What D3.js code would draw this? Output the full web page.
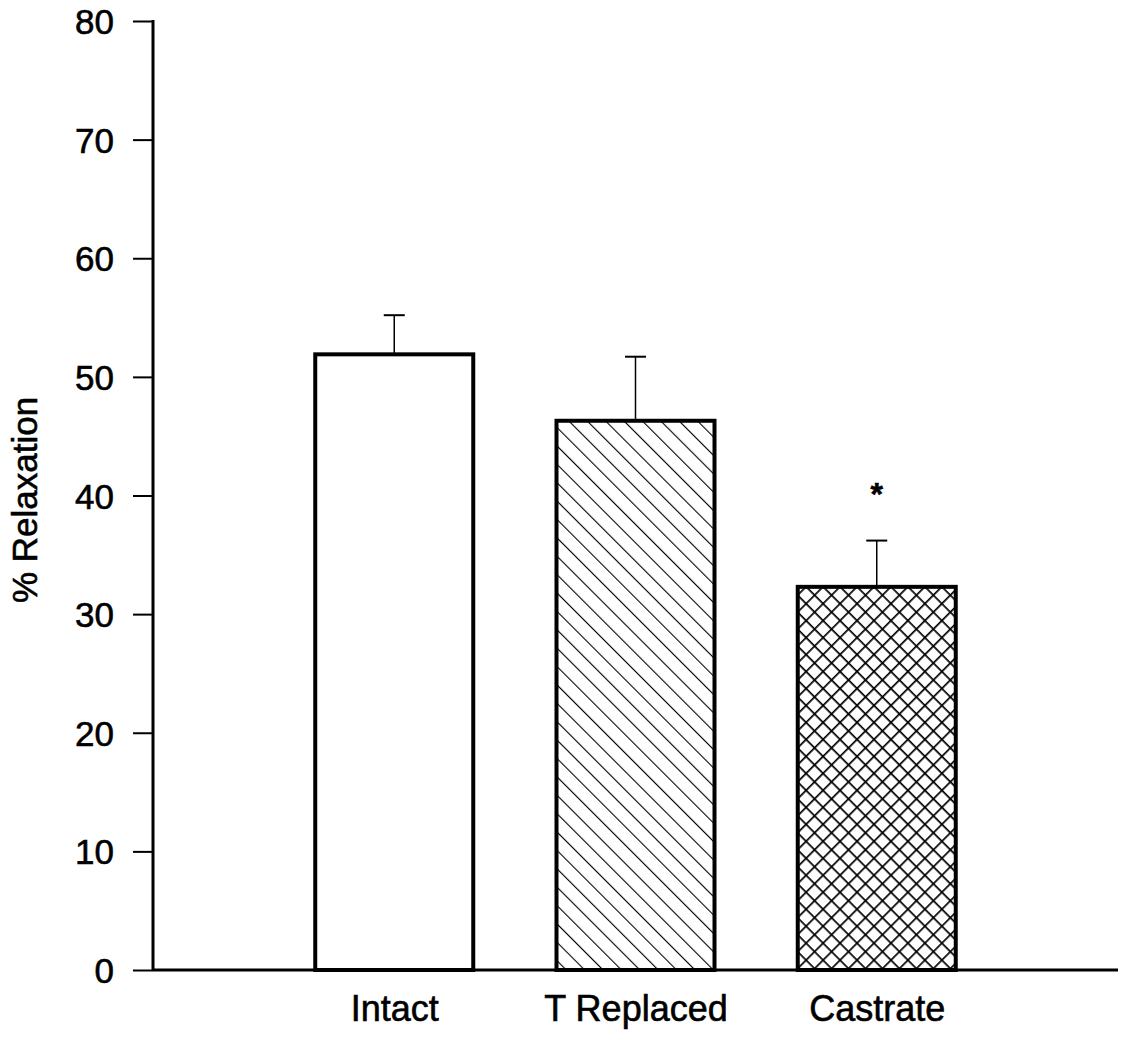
<!DOCTYPE html>
<html>
<head>
<meta charset="utf-8">
<script src="https://cdn.jsdelivr.net/npm/d3@7"></script>
<style>
  html, body { margin: 0; padding: 0; background: #fff; }
  svg { display: block; }
  text { font-family: "Liberation Sans", Arial, Helvetica, sans-serif; fill: #000; stroke: #000; stroke-width: 0.6px; }
</style>
</head>
<body>
<svg id="chart" width="1122" height="1039"></svg>
<script>
const categories = ["Intact", "T Replaced", "Castrate"];
const means = [51.9, 46.3, 32.3];
const errors = [3.3, 5.4, 3.9];
const patterns = ["none", "diag", "cross"];
const significance = ["", "", "*"];
const yTicks = [0, 10, 20, 30, 40, 50, 60, 70, 80];
const yLabel = "% Relaxation";

(function () {
const svg = d3.select("#chart");
const mLeft = 153, mRight = 1118, mTop = 21, mBottom = 970;

const x = d3.scalePoint()
  .domain(["_l", ...categories, "_r"])
  .range([mLeft, mRight]);
const y = d3.scaleLinear().domain([0, 80]).range([mBottom, mTop]);
const barW = 158;

const defs = svg.append("defs");
const diag = defs.append("pattern")
  .attr("id", "diag").attr("patternUnits", "userSpaceOnUse")
  .attr("width", 13).attr("height", 13)
  .attr("patternTransform", "rotate(-45)");
diag.append("rect").attr("width", 13).attr("height", 13).attr("fill", "#fff");
diag.append("line").attr("x1", 0).attr("y1", 0).attr("x2", 0).attr("y2", 13)
  .attr("stroke", "#000").attr("stroke-width", 2.2);

const cs = 12;
const cross = defs.append("pattern")
  .attr("id", "cross").attr("patternUnits", "userSpaceOnUse")
  .attr("width", cs).attr("height", cs)
  .attr("patternTransform", "rotate(45)");
cross.append("rect").attr("width", cs).attr("height", cs).attr("fill", "#fff");
cross.append("line").attr("x1", 0).attr("y1", 0).attr("x2", 0).attr("y2", cs)
  .attr("stroke", "#000").attr("stroke-width", 3.4);
cross.append("line").attr("x1", 0).attr("y1", 0).attr("x2", cs).attr("y2", 0)
  .attr("stroke", "#000").attr("stroke-width", 3.4);

const data = categories.map((c, i) => ({ c, m: means[i], e: errors[i], p: patterns[i], s: significance[i] }));

const eb = svg.append("g");
data.forEach(d => {
  const cx = x(d.c);
  eb.append("line").attr("x1", cx).attr("x2", cx)
    .attr("y1", y(d.m)).attr("y2", y(d.m + d.e))
    .attr("stroke", "#000").attr("stroke-width", 1.5);
  eb.append("line").attr("x1", cx - 10.5).attr("x2", cx + 10.5)
    .attr("y1", y(d.m + d.e)).attr("y2", y(d.m + d.e))
    .attr("stroke", "#000").attr("stroke-width", 2);
});

svg.append("g").selectAll("rect").data(data).join("rect")
  .attr("x", d => x(d.c) - barW / 2)
  .attr("y", d => y(d.m))
  .attr("width", barW)
  .attr("height", d => y(0) - y(d.m))
  .attr("fill", d => d.p === "none" ? "#fff" : `url(#${d.p})`)
  .attr("stroke", "#000").attr("stroke-width", 4);

svg.append("g").selectAll("text").data(data.filter(d => d.s)).join("text")
  .attr("x", d => x(d.c))
  .attr("y", d => y(d.m + d.e) - 36)
  .attr("text-anchor", "middle")
  .attr("font-size", 32)
  .attr("font-weight", "bold")
  .text(d => d.s);

const yAxis = d3.axisLeft(y).tickValues(yTicks).tickSize(20).tickPadding(19);
const gy = svg.append("g").attr("transform", `translate(${mLeft},0)`).call(yAxis);
gy.select(".domain").remove();
gy.selectAll(".tick line").attr("stroke", "#000").attr("stroke-width", 2);
gy.selectAll(".tick text").attr("font-size", 35).attr("font-family", "Liberation Sans, Arial, sans-serif")
  .attr("fill", "#000").attr("stroke", "#000").attr("stroke-width", 0.6).attr("dy", "0.36em");
svg.append("line").attr("x1", mLeft).attr("x2", mLeft).attr("y1", mTop - 1).attr("y2", mBottom + 1)
  .attr("stroke", "#000").attr("stroke-width", 3);

svg.append("line").attr("x1", mLeft).attr("x2", mRight).attr("y1", mBottom).attr("y2", mBottom)
  .attr("stroke", "#000").attr("stroke-width", 3);

const xAxis = d3.axisBottom(x).tickValues(categories).tickSize(0).tickPadding(25);
const gx = svg.append("g").attr("transform", `translate(0,${mBottom})`).call(xAxis);
gx.select(".domain").remove();
gx.selectAll(".tick text").attr("font-size", 36).attr("font-family", "Liberation Sans, Arial, sans-serif")
  .attr("fill", "#000").attr("stroke", "#000").attr("stroke-width", 0.6);

svg.append("text")
  .attr("transform", `translate(37,500) rotate(-90)`)
  .attr("text-anchor", "middle")
  .attr("font-size", 35)
  .text(yLabel);
})();
</script>
</body>
</html>
